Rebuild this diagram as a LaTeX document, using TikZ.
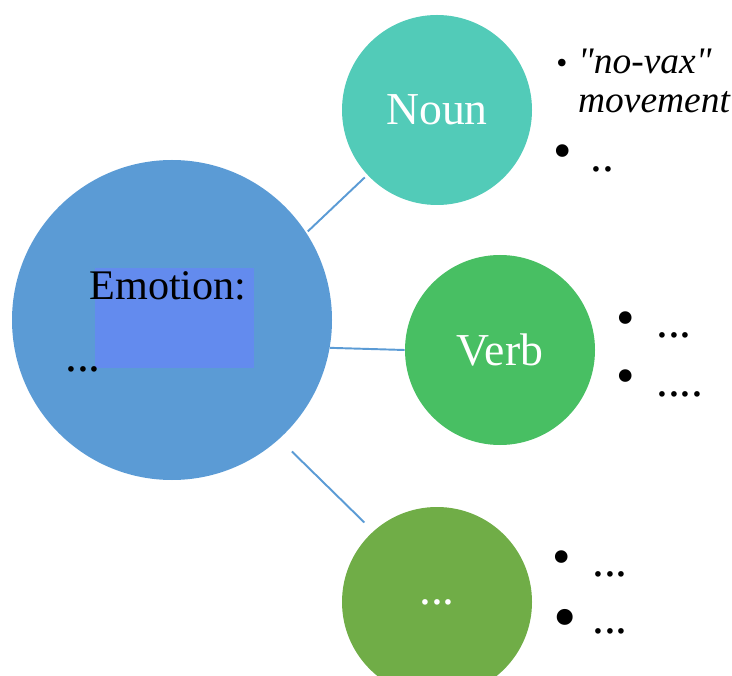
\documentclass[tikz,border=0pt]{standalone}
\usepackage{fontspec}
\setmainfont{Liberation Serif}
\usepackage{xcolor}
\usepackage{tikz}
\usetikzlibrary{calc, positioning}

\definecolor{emoblue}{HTML}{5B9BD5}
\definecolor{boxblue}{HTML}{638BEE}
\definecolor{nounteal}{HTML}{52CBB8}
\definecolor{verbgreen}{HTML}{48BF63}
\definecolor{etcgreen}{HTML}{70AD47}

\tikzset{
    topic/.style={circle, minimum size=3.8cm, inner sep=0pt, text=white,
        font=\fontsize{26}{30}\selectfont},
    link/.style={draw=emoblue, line width=1.1pt},
    dotted text/.style={anchor=base west, font=\fontsize{27}{30}\selectfont},
    bul/.style={font=\fontsize{30}{32}\selectfont},
    item text/.style={anchor=base west, font=\fontsize{21.3}{24}\selectfont\itshape}
}

\begin{document}
\begin{tikzpicture}

    % Khung hình
    \useasboundingbox (0,0) rectangle (14.64,-13.52);

    % Vòng tròn lớn bên trái
    \node[circle, fill=emoblue, minimum size=6.4cm, inner sep=0pt] (emo) at (3.44,-6.40) {};
    \fill[boxblue] (1.90,-5.36) rectangle (5.08,-7.36);
    \node[anchor=base, font=\fontsize{24}{28}\selectfont] (emolabel) at (3.36,-6.00) {Emotion:};
    \node[dotted text] (emodots) at (1.18,-7.44) {...};

    % Các vòng tròn bên phải
    \node[topic, fill=nounteal] (noun) at (8.74,-2.20) {Noun};
    \node[topic, fill=verbgreen] (verb) at (10.00,-7.00) {Verb};
    \node[topic, fill=etcgreen, font=\fontsize{27}{30}\selectfont] (etc) at (8.74,-12.04) {...};

    % Các đường nối
    \draw[link, shorten <=1pt, shorten >=2pt] (emo.33.7) -- (noun.223.4);
    \draw[link] (emo.-10.4) -- (verb.180);
    \draw[link, shorten <=10pt, shorten >=7pt] (emo.-48.4) -- (etc.132.7);

    % Danh sách bên cạnh Noun
    \node[bul, font=\fontsize{18}{20}\selectfont] (nb1) at (11.24,-1.32) {•};
    \node[item text] (nt1) at (11.44,-1.47) {\textquotedbl no-vax\textquotedbl};
    \node[item text] (nt2) at (11.44,-2.25) {movement};
    \node[bul] (nb2) at (11.26,-3.14) {•};
    \node[dotted text] (nt3) at (11.68,-3.44) {..};

    % Danh sách bên cạnh Verb
    \node[bul] (vb1) at (12.52,-6.48) {•};
    \node[dotted text] (vt1) at (13.00,-6.76) {...};
    \node[bul] (vb2) at (12.52,-7.64) {•};
    \node[dotted text] (vt2) at (13.00,-7.92) {....};

    % Danh sách bên cạnh vòng tròn cuối
    \node[bul] (eb1) at (11.24,-11.26) {•};
    \node[dotted text] (et1) at (11.72,-11.52) {...};
    \node[bul, font=\fontsize{38}{40}\selectfont] (eb2) at (11.30,-12.48) {•};
    \node[dotted text] (et2) at (11.72,-12.66) {...};

\end{tikzpicture}
\end{document}
